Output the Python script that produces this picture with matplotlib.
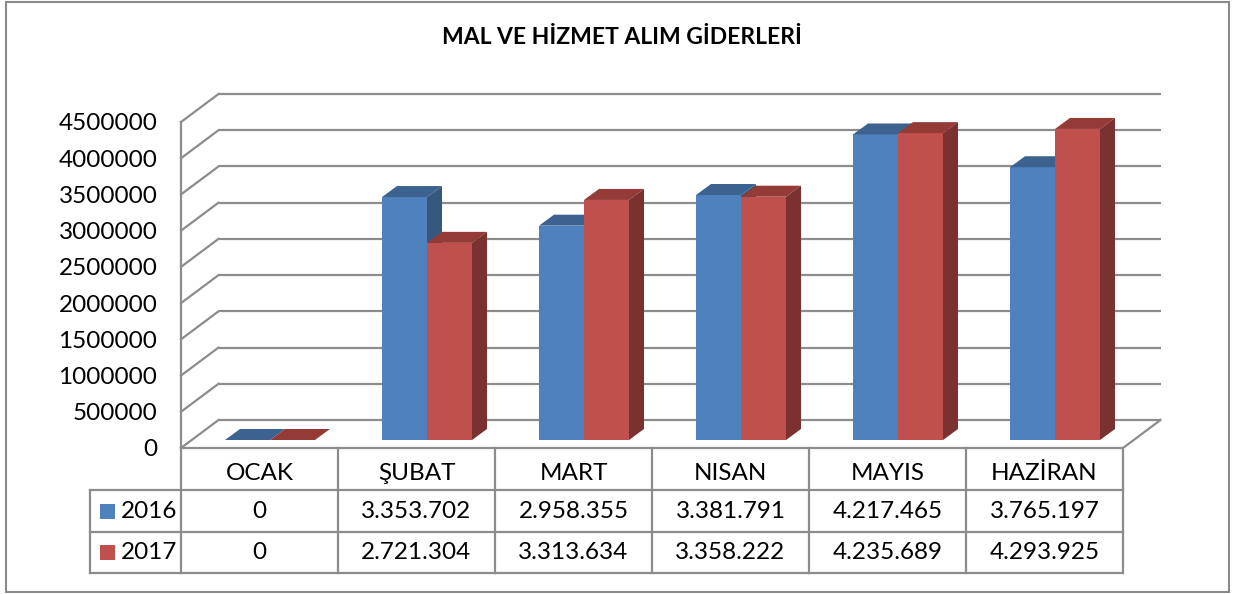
import matplotlib
matplotlib.use('Agg')
import matplotlib.pyplot as plt
from matplotlib.patches import Rectangle, Polygon

# Data
months = ['OCAK', 'ŞUBAT', 'MART', 'NISAN', 'MAYIS', 'HAZİRAN']
years = ['2016', '2017']
values_2016 = [0, 3353702, 2958355, 3381791, 4217465, 3765197]
values_2017 = [0, 2721304, 3313634, 3358222, 4235689, 4293925]
y_ticks = [0, 500000, 1000000, 1500000, 2000000, 2500000, 3000000, 3500000, 4000000, 4500000]

# Styles
front_colors = ['#4F81BD', '#C0504D']
top_colors = ['#3C6390', '#943A37']
side_colors = ['#36587F', '#7B3130']
grid_color = '#8C8C8C'
font = 'Lato'
fs = 17.5

W, H = 1235, 594
fig = plt.figure(figsize=(W / 100, H / 100), dpi=100)
fig.patch.set_facecolor('white')

# plot area (front plane) in pixels
left_px, right_px, bottom_px, top_px = 181, 1123, 448, 122
ax = fig.add_axes([left_px / W, 1 - bottom_px / H, (right_px - left_px) / W, (bottom_px - top_px) / H])
xmin, xmax = -0.5, len(months) - 0.5
ymax = y_ticks[-1]
ax.set_xlim(xmin, xmax)
ax.set_ylim(0, ymax)
for s in ax.spines.values():
    s.set_visible(False)
ax.set_facecolor('none')
ax.get_xaxis().set_visible(False)

# pixel -> data conversion
kx = (xmax - xmin) / (right_px - left_px)
ky = ymax / (bottom_px - top_px)

# 3d depth (pixels)
floor_dx, floor_dy = 37.5 * kx, 28 * ky
front_dx, front_dy = 10.5 * kx, 8 * ky
side_dx, side_dy = 15 * kx, 11 * ky
bar_w = 45 * kx

lw = 1.6
# back wall grid and left wall
for v in y_ticks:
    ax.plot([xmin + floor_dx, xmax + floor_dx], [v + floor_dy, v + floor_dy], color=grid_color, lw=lw,
            clip_on=False, zorder=1, solid_capstyle='butt')
    ax.plot([xmin, xmin + floor_dx], [v, v + floor_dy], color=grid_color, lw=lw, clip_on=False, zorder=1)
ax.plot([xmin, xmin], [0, ymax], color=grid_color, lw=lw, clip_on=False, zorder=1)
ax.plot([xmin, xmax, xmax + floor_dx], [0, 0, floor_dy], color=grid_color, lw=lw, clip_on=False, zorder=1)

# bars
for i in range(len(months)):
    for j, vals in enumerate([values_2016, values_2017]):
        h = vals[i]
        x0 = i - bar_w + j * bar_w + front_dx
        x1 = x0 + bar_w
        y0 = front_dy
        y1 = front_dy + h
        z = 3 + i * 2 + j
        ax.bar(x0, h, width=bar_w, bottom=y0, align='edge', color=front_colors[j], zorder=z,
               clip_on=False, linewidth=0)
        ax.add_patch(Polygon([(x0, y1), (x1, y1), (x1 + side_dx, y1 + side_dy), (x0 + side_dx, y1 + side_dy)],
                             closed=True, facecolor=top_colors[j], edgecolor='none', zorder=z, clip_on=False))
        ax.add_patch(Polygon([(x1, y0), (x1, y1), (x1 + side_dx, y1 + side_dy), (x1 + side_dx, y0 + side_dy)],
                             closed=True, facecolor=side_colors[j], edgecolor='none', zorder=z, clip_on=False))

# y tick labels
ax.set_yticks(y_ticks)
ax.set_yticklabels([str(v) for v in y_ticks], fontsize=fs, family=font)
ax.tick_params(axis='y', length=0, pad=17)

# data table
label_left = xmin - 91 * kx
row_edges = [0, -42 * ky, -84 * ky, -125 * ky]
for k in range(len(months) + 1):
    ax.plot([xmin + k, xmin + k], [row_edges[0], row_edges[-1]], color=grid_color, lw=lw, clip_on=False)
for e in row_edges[1:]:
    ax.plot([label_left, xmax], [e, e], color=grid_color, lw=lw, clip_on=False)
ax.plot([label_left, label_left], [row_edges[1], row_edges[-1]], color=grid_color, lw=lw, clip_on=False)

for i, m in enumerate(months):
    ax.text(i, (row_edges[0] + row_edges[1]) / 2 - 5 * ky, m, ha='center', va='center', fontsize=fs,
            family=font, clip_on=False)
for j, vals in enumerate([values_2016, values_2017]):
    yc = (row_edges[j + 1] + row_edges[j + 2]) / 2
    for i, v in enumerate(vals):
        ax.text(i, yc, format(v, ',').replace(',', '.'), ha='center', va='center', fontsize=fs,
                family=font, clip_on=False)
    ax.add_patch(Rectangle((label_left + 10 * kx, yc - 7.5 * ky), 15 * kx, 15 * ky, facecolor=front_colors[j],
                           edgecolor='none', clip_on=False))
    ax.text(label_left + 31 * kx, yc, years[j], ha='left', va='center', fontsize=fs, family=font,
            clip_on=False)

# title and frame
fig.text(622 / W, 1 - 37 / H, 'MAL VE HİZMET ALIM GİDERLERİ', ha='center', va='center', fontsize=16.5,
         fontweight='bold', family=font)
fig.patches.append(Rectangle((6 / W, 2 / H), 1223 / W, 590 / H, transform=fig.transFigure, fill=False,
                             edgecolor='#8A8A8A', lw=1.5))

fig.savefig('out.png', dpi=100)
